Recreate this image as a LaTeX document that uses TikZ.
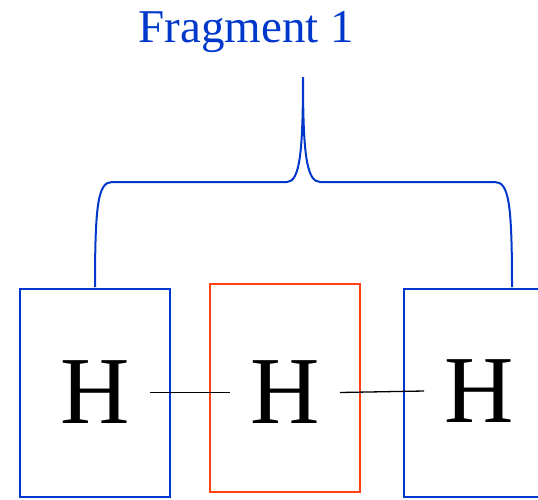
\documentclass[tikz,border=0pt]{standalone}
\usepackage{fontspec}
\setmainfont{Liberation Serif}
\usepackage{tikz}
\usetikzlibrary{positioning}
\definecolor{fragBlue}{RGB}{0,56,204}
\definecolor{fragRed}{RGB}{255,64,16}
\tikzset{
  hbox/.style={draw=fragBlue,line width=1.6pt,minimum width=150pt,minimum height=208pt,inner sep=0pt},
  atom/.style={font=\fontsize{96}{96}\selectfont,inner ysep=0pt,inner xsep=20pt},
  bond/.style={line width=1.3pt,black},
  brc/.style={fragBlue,line width=2pt},
}
\begin{document}
\begin{tikzpicture}[x=1pt,y=-1pt]
  \useasboundingbox (0,0) rectangle (538,499);
  \clip (0,0) rectangle (538,499);
  % fragment boxes
  \node[hbox] (b1) at (95,393) {};
  \node[hbox,draw=fragRed] (b2) at (285,388) {};
  \node[hbox] (b3) at (479,393) {};
  % atoms
  \node[atom] (h1) at (95,392.5) {H};
  \node[atom] (h2) at (285,392.5) {H};
  \node[atom] (h3) at (479,391) {H};
  \foreach \a/\b in {h1/h2,h2/h3}
    \draw[bond] (\a.east)--(\b.west);
  % brace and label
  \coordinate (bl) at (95,287);
  \coordinate (br) at (512,287);
  \coordinate (tip) at (303,77);
  \draw[brc] (bl) .. controls (95,205) and (98,182) .. (112,182) -- (287,182)
    .. controls (300,182) and (303,150) .. (tip)
    .. controls (303,150) and (306,182) .. (320,182) -- (495,182)
    .. controls (509,182) and (512,205) .. (br);
  \node[font=\fontsize{47}{47}\selectfont,text=fragBlue,anchor=base] (frag) at (246.5,42) {Fragment 1};
\end{tikzpicture}
\end{document}
